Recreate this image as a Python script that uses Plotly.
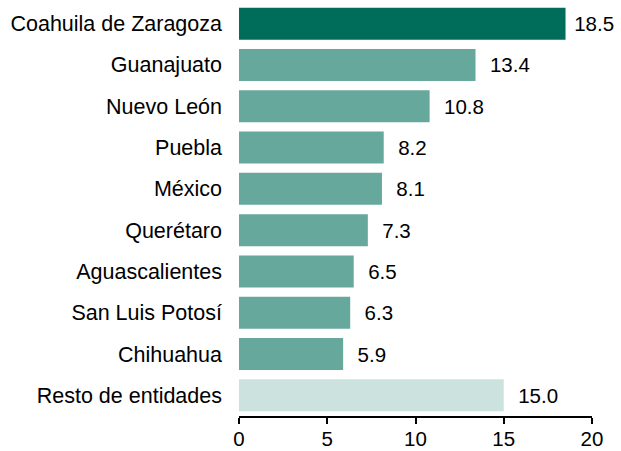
import plotly.graph_objects as go

categories = ["Coahuila de Zaragoza", "Guanajuato", "Nuevo León", "Puebla", "México",
              "Querétaro", "Aguascalientes", "San Luis Potosí", "Chihuahua", "Resto de entidades"]
values = [18.5, 13.4, 10.8, 8.2, 8.1, 7.3, 6.5, 6.3, 5.9, 15.0]
x_ticks = [0, 5, 10, 15, 20]

colors = ["#006D5B"] + ["#67A89D"] * 8 + ["#CBE2DE"]
label_pad = ["\u00a0"] + ["\u00a0\u00a0"] * 9
texts = [p + f"{v:.1f}" for p, v in zip(label_pad, values)]

fig = go.Figure(go.Bar(
    x=values, y=categories, orientation="h",
    marker=dict(color=colors, line=dict(width=0)),
    text=texts, textposition="outside", cliponaxis=False,
    textfont=dict(family="Liberation Sans, Arial, sans-serif", size=20.5, color="#000000"),
    hoverinfo="skip",
))

fig.update_layout(
    width=621, height=451,
    margin=dict(l=239, r=29, t=3, b=35),
    paper_bgcolor="white", plot_bgcolor="white",
    bargap=0.225,
    showlegend=False,
    font=dict(family="Liberation Sans, Arial, sans-serif", color="#000000"),
)
fig.update_xaxes(
    range=[0, 20], tickvals=x_ticks, ticktext=[str(t) for t in x_ticks],
    showgrid=False, zeroline=False, showline=True, linecolor="#000000", linewidth=2,
    ticks="outside", ticklen=3, tickcolor="rgba(0,0,0,0)", automargin=False,
    minor=dict(tickmode="array", tickvals=x_ticks, ticks="outside", ticklen=6,
               tickwidth=2, tickcolor="#000000", showgrid=False),
    tickfont=dict(size=20.5, color="#000000"),
)
fig.update_yaxes(
    autorange="reversed", categoryorder="array", categoryarray=categories,
    showgrid=False, zeroline=False, showline=False, ticks="", automargin=False,
    ticklabelstandoff=16,
    tickfont=dict(size=21.5, color="#000000"),
)

fig.write_html("out.html", post_script="document.body.style.margin='0';", config={"displayModeBar": False})
